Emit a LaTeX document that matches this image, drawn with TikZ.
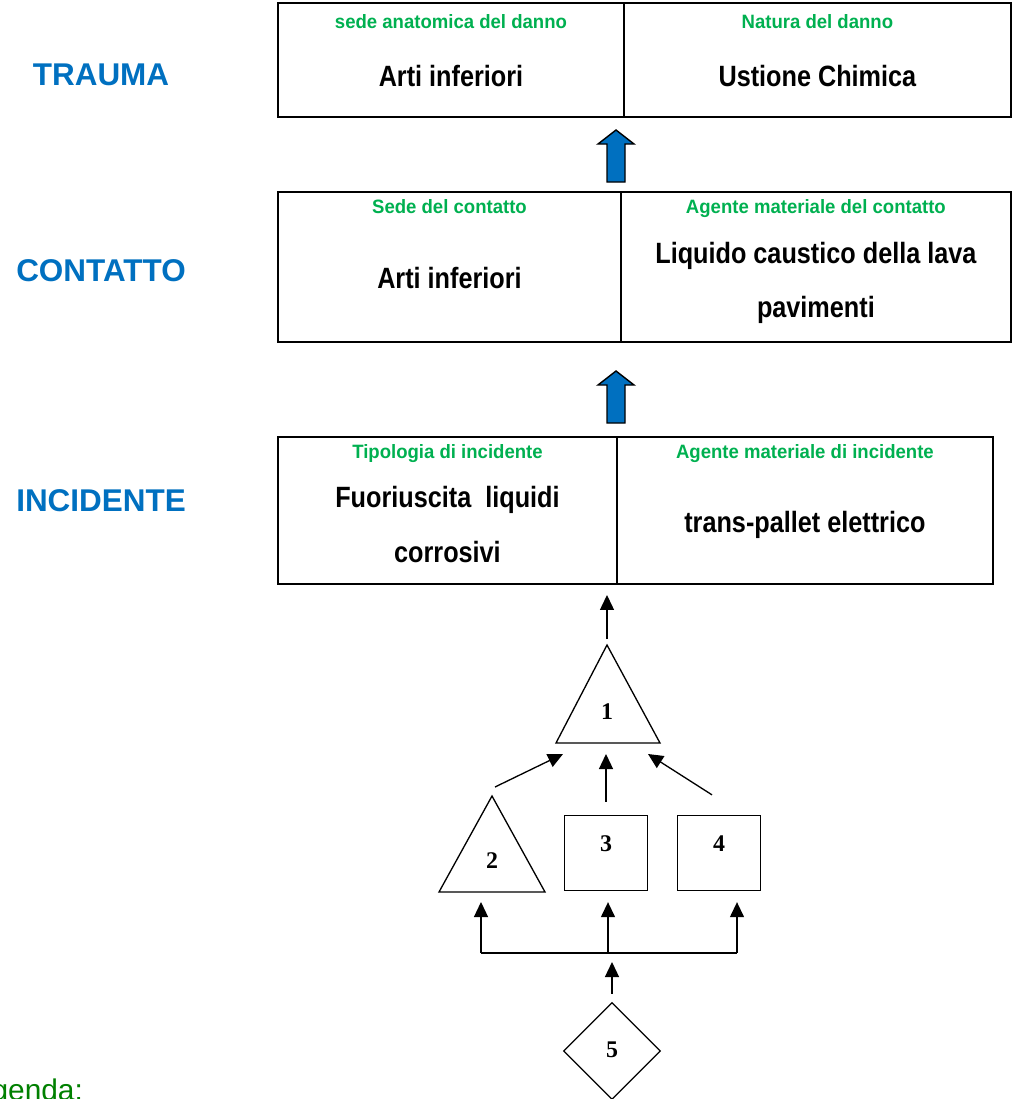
\documentclass[tikz,border=0pt]{standalone}
\usepackage{fontspec}
\setmainfont{Liberation Sans}
\newfontfamily\narrowfont[FakeStretch=0.86]{Liberation Sans}
\newfontfamily\semifont[FakeStretch=0.96]{Liberation Sans}
\newfontfamily\timesfont{Liberation Serif}
\usetikzlibrary{arrows.meta,shapes.geometric,positioning}

\definecolor{subgreen}{RGB}{0,176,80}
\definecolor{levelblue}{RGB}{0,112,192}
\definecolor{legendgreen}{RGB}{0,128,0}

\newcommand\subfont{\semifont\bfseries\fontsize{11}{13}\selectfont}
\newcommand\bigfont{\narrowfont\bfseries\fontsize{16.7}{20}\selectfont}
\newcommand\levelfont{\bfseries\fontsize{17.9}{21}\selectfont}
\newcommand\numfont{\timesfont\bfseries\fontsize{13.6}{16}\selectfont}

\tikzset{
  cell/.style={draw, line width=1.4pt, inner sep=0pt, outer sep=0pt, anchor=north west},
  sub/.style={font=\subfont, text=subgreen, anchor=base, inner sep=0pt},
  big/.style={font=\bigfont, anchor=base, inner sep=0pt},
  level/.style={font=\levelfont, text=levelblue, anchor=base, inner sep=0pt},
  num/.style={font=\numfont, anchor=base, inner sep=0pt},
  fig/.style={draw, line width=0.75pt},
  sq/.style={fig, minimum width=1.66cm, minimum height=1.5cm, inner sep=0pt},
  dia/.style={fig, diamond, minimum width=1.94cm, minimum height=1.94cm, inner sep=0pt},
  arr/.style={-{Triangle[length=0.3cm, width=0.28cm]}, line width=0.75pt},
  blockarrow/.style={fill=levelblue, draw=black, line width=0.8pt, line join=miter}
}

\begin{document}
\begin{tikzpicture}[x=0.02cm, y=-0.02cm]
\useasboundingbox (0,0) rectangle (1013,1099);

% livelli
\node[level] (trauma)    at (101,85)  {TRAUMA};
\node[level] (contatto)  at (101,281) {CONTATTO};
\node[level] (incidente) at (101,511) {INCIDENTE};

% trauma
\node[cell, minimum width=6.92cm, minimum height=2.28cm] (tr1) at (278,3) {};
\node[cell, minimum width=7.74cm, minimum height=2.28cm] (tr2) at (tr1.north east) {};
\node[sub] at ([yshift=-0.52cm]tr1.north) {sede anatomica del danno};
\node[sub] at ([yshift=-0.52cm]tr2.north) {Natura del danno};
\node[big] at ([yshift=-1.68cm]tr1.north) {Arti inferiori};
\node[big] at ([yshift=-1.68cm]tr2.north) {Ustione Chimica};

% contatto
\node[cell, minimum width=6.86cm, minimum height=3cm] (ct1) at (278,192) {};
\node[cell, minimum width=7.8cm, minimum height=3cm] (ct2) at (ct1.north east) {};
\node[sub] at ([yshift=-0.44cm]ct1.north) {Sede del contatto};
\node[sub] at ([yshift=-0.44cm]ct2.north) {Agente materiale del contatto};
\node[big] at ([yshift=-1.94cm]ct1.north) {Arti inferiori};
\node[big] at ([yshift=-1.44cm]ct2.north) {Liquido caustico della lava};
\node[big] at ([yshift=-2.52cm]ct2.north) {pavimenti};

% incidente
\node[cell, minimum width=6.78cm, minimum height=2.94cm] (in1) at (278,437) {};
\node[cell, minimum width=7.52cm, minimum height=2.94cm] (in2) at (in1.north east) {};
\node[sub] at ([yshift=-0.42cm]in1.north) {Tipologia di incidente};
\node[sub] at ([yshift=-0.42cm]in2.north) {Agente materiale di incidente};
\node[big] at ([yshift=-1.42cm]in1.north) {Fuoriuscita~ liquidi};
\node[big] at ([yshift=-2.52cm]in1.north) {corrosivi};
\node[big] at ([yshift=-1.92cm]in2.north) {trans-pallet elettrico};

% frecce blu
\foreach \ty in {130,371}
  \draw[blockarrow] (616,\ty) -- ++(18,14) -- ++(-9,0) -- ++(0,38)
    -- ++(-18,0) -- ++(0,-38) -- ++(-9,0) -- cycle;

% albero
\coordinate (t1top) at (607,645);
\coordinate (t1base) at (608,743);
\draw[fig] (556,743) -- (t1top) -- (660,743) -- cycle;
\node[num] (n1) at (607,719) {1};

\coordinate (t2top) at (492,796);
\coordinate (t2base) at (492,892);
\draw[fig] (439,892) -- (t2top) -- (545,892) -- cycle;
\node[num] (n2) at (492,868) {2};

\node[sq] (s3) at (606,853) {};
\node[num] (n3) at (606,851) {3};
\node[sq] (s4) at (719,853) {};
\node[num] (n4) at (719,851) {4};

\node[dia] (d5) at (612,1051) {};
\node[num] (n5) at (612,1057) {5};

\draw[arr, shorten <=0.12cm, shorten >=0.22cm] (t1top) -- (t1top |- in1.south);
\draw[arr] ([shift={(3,-9)}]t2top) -- ([shift={(-45,11)}]t1base);
\draw[arr, shorten <=0.26cm, shorten >=0.22cm] (s3.north) -- (s3.north |- t1base);
\draw[arr] ([shift={(-7,-20)}]s4.north) -- ([shift={(40,11)}]t1base);

\coordinate (busL) at (481,953);
\coordinate (busM) at (608,953);
\coordinate (busR) at (737,953);
\draw[fig] (busL) -- (busR);
\draw[arr, shorten >=0.2cm] (busL) -- (busL |- t2base);
\draw[arr, shorten >=0.22cm] (busM) -- (busM |- s3.south);
\draw[arr, shorten >=0.22cm] (busR) -- (busR |- s4.south);
\draw[arr, shorten <=0.16cm, shorten >=0.18cm] (d5.north) -- (d5.north |- busM);

% legenda
\node[anchor=base west, inner sep=0pt, text=legendgreen,
      font=\fontsize{17}{20}\selectfont] (legenda) at (-42,1100) {Legenda:};
\end{tikzpicture}
\end{document}
